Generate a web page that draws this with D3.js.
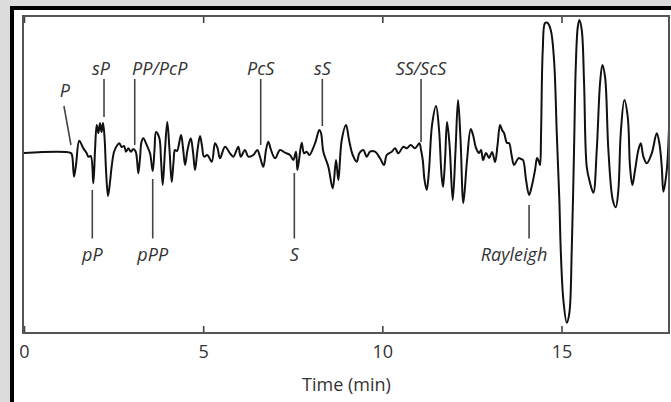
<!DOCTYPE html>
<html>
<head>
<meta charset="utf-8">
<script src="https://cdn.jsdelivr.net/npm/d3@7"></script>
<style>
    body { margin: 0; background: #dcdcdc; }
    text { font-family: "Open Sans", "Noto Sans", sans-serif; fill: #333; }
</style>
</head>
<body>
<div id="chart"></div>
<script>
// seismogram trace, time in minutes, amplitude in arbitrary units
const timeMin = [0, 1.303, 1.340, 1.396, 1.451, 1.543, 1.655, 1.750, 1.795, 1.862, 1.934, 1.982, 2.029, 2.074, 2.121, 2.163, 2.205, 2.247, 2.289, 2.344,
    2.400, 2.448, 2.512, 2.587, 2.660, 2.727, 2.791, 2.847, 2.911, 2.986, 3.051, 3.118, 3.154, 3.190, 3.238, 3.279, 3.330, 3.425, 3.517, 3.592,
    3.642, 3.684, 3.776, 3.824, 3.871, 3.935, 3.999, 4.061, 4.122, 4.173, 4.214, 4.270, 4.382, 4.438, 4.494, 4.563, 4.653, 4.717, 4.773, 4.842,
    4.912, 4.968, 5.024, 5.116, 5.239, 5.331, 5.401, 5.470, 5.610, 5.749, 5.842, 5.981, 6.048, 6.168, 6.260, 6.400, 6.511, 6.587, 6.679, 6.754,
    6.818, 6.894, 7.005, 7.145, 7.284, 7.424, 7.516, 7.591, 7.628, 7.675, 7.750, 7.815, 7.890, 7.963, 8.122, 8.242, 8.289, 8.353, 8.493, 8.616,
    8.708, 8.772, 8.867, 8.987, 9.071, 9.174, 9.286, 9.358, 9.470, 9.565, 9.657, 9.796, 9.936, 10.048, 10.123, 10.263, 10.355, 10.447, 10.586, 10.681,
    10.793, 10.912, 11.033, 11.080, 11.128, 11.178, 11.239, 11.303, 11.387, 11.499, 11.583, 11.652, 11.694, 11.750, 11.806, 11.876, 11.965, 12.043, 12.113, 12.183,
    12.261, 12.364, 12.467, 12.531, 12.615, 12.699, 12.755, 12.811, 12.894, 12.978, 13.062, 13.146, 13.215, 13.285, 13.341, 13.397, 13.480, 13.536, 13.606, 13.676,
    13.760, 13.815, 13.871, 13.927, 14.011, 14.095, 14.178, 14.262, 14.318, 14.374, 14.402, 14.430, 14.477, 14.541, 14.605, 14.700, 14.792, 14.868, 14.940, 14.979,
    15.052, 15.147, 15.219, 15.286, 15.350, 15.398, 15.454, 15.498, 15.565, 15.630, 15.705, 15.797, 15.889, 15.984, 16.076, 16.141, 16.216, 16.308, 16.431, 16.515,
    16.587, 16.654, 16.754, 16.849, 16.913, 16.978, 17.053, 17.145, 17.212, 17.285, 17.380, 17.519, 17.658, 17.731, 17.798, 17.843, 17.938, 18.0];

const amplitude = [0, 0, -0.2, -2.37, -1.2, 1.23, 0.47, -0.03, -0.37, -0.3, -3.03, 0.3, 2.8, 2.0, 2.97, 2.1, 3.0, 1.6, -1.7, -4.3,
    -2.9, -1.3, 0.1, 0.7, 0.97, 0.6, 0.7, 0.13, 0.47, 0.13, 0.4, 0.13, -0.7, -2.03, -0.5, 1.1, 1.47, 0.8, -0.03, -1.8,
    0.3, 2.1, 1.5, -0.7, -3.2, 0.3, 3.1, 0.3, -2.9, -0.9, 0.3, 0.2, 1.8, 0.5, -1.2, 0.3, 1.47, 0.1, -1.7, 0.3,
    1.7, 0.7, -0.37, -0.2, -0.87, 0.97, 0.5, -0.53, 0.63, -0.03, -0.37, 0.63, -0.37, 0.3, -0.37, -0.2, 0.3, -0.4, -1.37, 0.3,
    1.13, 0.3, -0.53, 0.3, 0.03, -0.2, -0.7, 0.13, -1.7, -0.7, 1.03, -0.03, 0.13, -0.2, 0.97, 2.3, 2.0, 0.13, -1.37, -3.53,
    -0.7, -2.7, 1.3, 2.8, 1.3, -0.2, -0.87, -0.03, 0.3, -0.37, 0.13, 0.13, -0.53, -1.2, -0.2, 0.13, 0.47, -0.03, 0.63, 0.47,
    0.8, 0.47, 0.97, 0.3, -0.7, -2.7, -3.7, -1.7, 2.8, 4.7, 2.3, -2.2, -3.4, -0.7, 3.1, 0.8, -4.7, 0.3, 5.3, 1.3,
    -5.0, -0.7, 2.4, 1.8, 0.5, 0, 0.3, -0.7, 0, -0.5, 0.1, -0.9, 0.8, 2.8, 2.3, 2.0, 1.0, 1.0, -0.2, -1.2,
    -0.7, -0.5, -0.6, -0.7, -2.7, -4.2, -3.2, -1.7, -0.5, -0.9, -1.2, 2.0, 10.3, 13.0, 13.03, 12.3, 9.3, 2.0, -4.7, -9.7,
    -14.7, -16.97, -16.0, -9.7, 0.3, 8.6, 12.6, 13.3, 12.3, 7.0, -1.4, -3.0, -3.97, 0.3, 7.0, 8.8, 7.6, 0.3, -4.7, -5.43,
    -3.7, 2.0, 5.3, 3.6, -1.4, -3.2, -1.7, 0.3, 0.97, -0.37, -1.03, -0.03, 1.97, 0.97, -1.37, -3.87, -1.7, 2.5];

// seismic phase arrivals
const phaseNames = ["P", "sP", "PP/PcP", "PcS", "sS", "SS/ScS", "pP", "pPP", "S", "Rayleigh"];
const phaseTimes = [1.31, 2.233, 3.09, 6.606, 8.325, 11.08, 1.906, 3.592, 7.544, 14.095];
const phaseTipAmp = [0.8, 3.6, 0.8, 0.8, 2.7, 1.1, -3.7, -2.6, -2.0, -5.2];
const phaseSide = ["up", "up", "up", "up", "up", "up", "down", "down", "down", "down"];

const xTicks = [0, 5, 10, 15];

const width = 671, height = 402;
const plot = { left: 24, right: 669, top: 16, bottom: 333 };

const svg = d3.select("#chart").append("svg")
    .attr("width", width)
    .attr("height", height);

// black frame
svg.append("rect")
    .attr("x", 12).attr("y", 8)
    .attr("width", 720).attr("height", 500)
    .attr("fill", "#fff")
    .attr("stroke", "#000")
    .attr("stroke-width", 4);

const x = d3.scaleLinear().domain([0, 18]).range([plot.left, plot.right]);
const y = d3.scaleLinear().domain([-18, 13.7]).range([plot.bottom, plot.top]);

svg.append("clipPath").attr("id", "clip")
    .append("rect")
    .attr("x", plot.left - 1).attr("y", plot.top)
    .attr("width", plot.right - plot.left + 1).attr("height", plot.bottom - plot.top);

const trace = timeMin.map((t, i) => ({ t: t, a: amplitude[i] }));

const line = d3.line()
    .x(d => x(d.t))
    .y(d => y(d.a))
    .curve(d3.curveCatmullRom.alpha(0.5));

svg.append("path")
    .datum(trace)
    .attr("clip-path", "url(#clip)")
    .attr("fill", "none")
    .attr("stroke", "#111")
    .attr("stroke-width", 2)
    .attr("stroke-linejoin", "round")
    .attr("d", line);

// axes, ticks point inward
const bottomAxis = svg.append("g")
    .attr("transform", "translate(0," + plot.bottom + ")")
    .call(d3.axisBottom(x).tickValues(xTicks).tickSizeInner(-7).tickSizeOuter(0).tickPadding(12));

const topAxis = svg.append("g")
    .attr("transform", "translate(0," + plot.top + ")")
    .call(d3.axisTop(x).tickValues(xTicks).tickSizeInner(-7).tickSizeOuter(0).tickFormat(""));

[bottomAxis, topAxis].forEach(g => {
    g.select(".domain").remove();
    g.selectAll(".tick line").attr("stroke", "#444").attr("stroke-width", 1.6);
});
bottomAxis.selectAll(".tick text")
    .attr("fill", "#333")
    .style("font-size", "18px")
    .style("font-family", "'Open Sans', sans-serif");

svg.append("rect")
    .attr("x", plot.left - 1).attr("y", plot.top)
    .attr("width", plot.right - plot.left + 1).attr("height", plot.bottom - plot.top)
    .attr("fill", "none")
    .attr("stroke", "#555")
    .attr("stroke-width", 2);

svg.append("text")
    .attr("x", (plot.left + plot.right) / 2)
    .attr("y", 391)
    .attr("text-anchor", "middle")
    .style("font-size", "18px")
    .text("Time (min)");

// phase markers and labels
const labelTop = 79, labelBottom = 238.5;
const labelDx = { "P": -6, "sP": -3, "PP/PcP": 25, "Rayleigh": -15 };

phaseNames.forEach((name, i) => {
    const px = x(phaseTimes[i]);
    const tip = y(phaseTipAmp[i]);
    const up = phaseSide[i] === "up";

    if (name === "P") {
        // slanted pointer
        svg.append("line")
            .attr("x1", px - 7).attr("y1", 106)
            .attr("x2", px).attr("y2", tip)
            .attr("stroke", "#444").attr("stroke-width", 1.6);
        svg.append("text")
            .attr("x", px + labelDx[name]).attr("y", 97)
            .attr("text-anchor", "middle")
            .style("font-size", "18px").style("font-style", "italic")
            .text(name);
        return;
    }

    svg.append("line")
        .attr("x1", px).attr("y1", up ? labelTop : labelBottom)
        .attr("x2", px).attr("y2", tip)
        .attr("stroke", "#444").attr("stroke-width", 1.6);

    svg.append("text")
        .attr("x", px + (labelDx[name] || 0))
        .attr("y", up ? 75 : 261)
        .attr("text-anchor", "middle")
        .style("font-size", "18px")
        .style("font-style", "italic")
        .text(name);
});
</script>
</body>
</html>
